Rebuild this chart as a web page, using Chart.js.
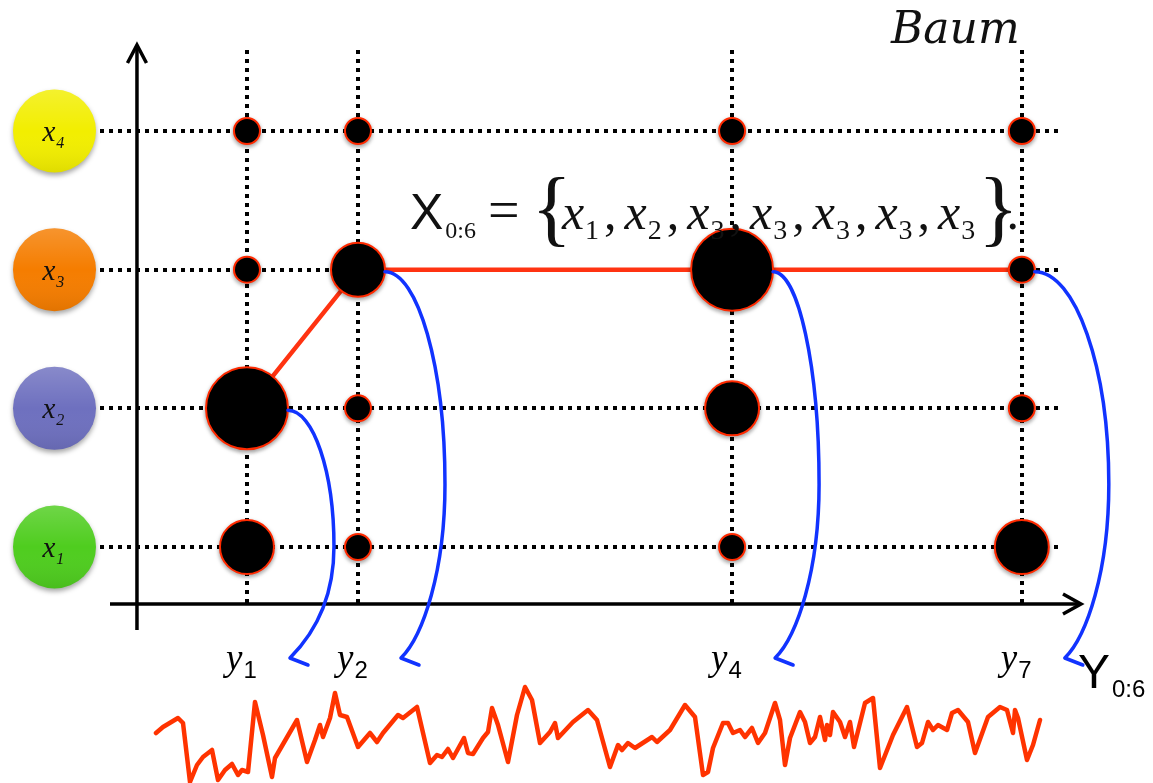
<!DOCTYPE html>
<html><head><meta charset="utf-8">
<script src="https://cdn.jsdelivr.net/npm/chart.js@4"></script>
<style>html,body{margin:0;padding:0;background:#fff;overflow:hidden}#wrap{width:1153px;height:783px;position:relative}canvas{display:block}</style>
</head><body><div id="wrap"><canvas id="c" width="1153" height="783" style="width:1153px;height:783px"></canvas></div>
<script>
// ---------- data ----------
const stateLabels = ['x1', 'x2', 'x3', 'x4'];
const stateValues = [1, 2, 3, 4];
const stateColors = ['#4fcd1f', '#6e70bf', '#f57d00', '#f2ee00'];
const timeLabels = ['1', '2', '4', '7'];          // y_1, y_2, y_4, y_7
const timePositions = [1, 2, 5.37, 7.98];         // positions along the time axis
// bubble weights (1 small, 2 medium, 3 large) per time column
const weightsX1 = [2, 1, 1, 2];
const weightsX2 = [3, 1, 2, 1];
const weightsX3 = [1, 2, 3, 1];
const weightsX4 = [1, 1, 1, 1];
const pathStates = [2, 3, 3, 3];                  // Viterbi path (state index per column)
const equationSequence = ['1', '2', '3', '3', '3', '3', '3'];
// observed signal (bottom red trace)
const noiseTime = [1,8,23,28,35,42,48,57,63,70,77,83,87,93,100,108,117,120,142,152,160,165,168,175,180,185,192,203,215,222,228,243,248,262,275,282,287,293,298,309,313,318,328,333,337,343,353,362,370,377,385,395,400,403,418,433,442,455,463,467,473,480,497,502,515,530,540,548,553,558,568,573,578,585,590,597,603,610,620,625,630,635,645,650,655,660,665,670,672,675,678,685,690,695,699,710,718,725,738,752,762,767,773,778,783,792,797,803,813,820,833,845,852,858,860,863,872,878,885];
const noiseLevel = [50,56,65,60,1,18,26,33,3,13,19,8,13,11,81,48,6,25,63,21,43,58,46,65,90,68,66,36,50,41,50,68,65,76,20,28,26,34,25,45,30,29,45,51,75,58,21,68,96,83,40,51,60,45,61,73,63,16,38,33,40,35,46,41,53,78,66,8,11,35,60,60,50,53,46,55,40,50,80,63,18,45,71,61,40,46,66,43,58,48,71,61,46,61,36,80,85,15,48,76,36,40,61,53,58,53,70,73,61,30,66,76,73,50,73,65,23,38,63];

// ---------- derived datasets ----------
const weightRows = [weightsX1, weightsX2, weightsX3, weightsX4];
const radiusFor = w => 13 + 14 * (w - 1);
const bubbleData = [];
weightRows.forEach((row, si) => row.forEach((w, ti) => bubbleData.push({ x: timePositions[ti], y: stateValues[si], r: radiusFor(w) })));
const pathData = pathStates.map((s, i) => ({ x: timePositions[i], y: s }));
const noiseData = noiseTime.map((t, i) => ({ x: t, y: noiseLevel[i] }));

const SERIF = '"Liberation Serif", "Times New Roman", serif';
const SANS = '"Liberation Sans", Arial, sans-serif';

function drawRich(ctx, x, y, tokens) {
  let cx = x;
  tokens.forEach(tk => {
    cx += tk.dx || 0;
    ctx.font = tk.f;
    ctx.fillText(tk.t, cx, y + (tk.dy || 0));
    cx += ctx.measureText(tk.t).width;
  });
  return cx;
}

const shadowPlugin = {
  id: 'bubbleShadow',
  beforeDatasetDraw(chart, args) {
    if (args.index === 1) {
      const ctx = chart.ctx; ctx.save();
      ctx.shadowColor = 'rgba(0,0,0,0.35)'; ctx.shadowBlur = 4; ctx.shadowOffsetY = 2;
    }
  },
  afterDatasetDraw(chart, args) { if (args.index === 1) chart.ctx.restore(); }
};

const decorPlugin = {
  id: 'decor',
  beforeDatasetsDraw(chart) {
    const ctx = chart.ctx, xs = chart.scales.x, ys = chart.scales.y, ca = chart.chartArea;
    ctx.save();
    ctx.strokeStyle = '#000'; ctx.lineWidth = 3.5; ctx.lineCap = 'butt'; ctx.lineJoin = 'miter';
    // vertical axis with arrow
    const ax = xs.getPixelForValue(0) + 1;
    ctx.beginPath(); ctx.moveTo(ax, ca.bottom + 26); ctx.lineTo(ax, ca.top - 5); ctx.stroke();
    ctx.beginPath(); ctx.moveTo(ax - 9.5, ca.top + 13); ctx.lineTo(ax, ca.top - 5); ctx.lineTo(ax + 9.5, ca.top + 13); ctx.stroke();
    // horizontal axis with arrow
    const ay = ca.bottom;
    ctx.beginPath(); ctx.moveTo(ca.left + 10, ay); ctx.lineTo(ca.right + 21, ay); ctx.stroke();
    ctx.beginPath(); ctx.moveTo(ca.right + 3, ay - 10); ctx.lineTo(ca.right + 21, ay); ctx.lineTo(ca.right + 3, ay + 10); ctx.stroke();
    ctx.restore();
  },
  afterDatasetsDraw(chart) {
    const ctx = chart.ctx, xs = chart.scales.x, ys = chart.scales.y, ca = chart.chartArea;
    ctx.save();
    // blue arrows from path bubbles down to the observations
    ctx.strokeStyle = '#1133ff'; ctx.lineWidth = 3.5; ctx.lineCap = 'round'; ctx.lineJoin = 'round';
    pathStates.forEach((s, i) => {
      const px = xs.getPixelForValue(timePositions[i]);
      const py = ys.getPixelForValue(s);
      const r = radiusFor(weightRows[s - 1][i]);
      const S = { x: px + r, y: py + 2 };
      const T = { x: px + 43, y: ca.bottom + 54 };
      const M = { x: px + 87, y: S.y + 0.55 * (T.y - S.y) };
      ctx.beginPath();
      ctx.moveTo(S.x, S.y);
      ctx.bezierCurveTo(S.x + 0.55 * (M.x - S.x), S.y, M.x, M.y - 0.55 * (M.y - S.y), M.x, M.y);
      ctx.bezierCurveTo(M.x, M.y + 0.5 * (T.y - M.y), T.x + 22, T.y - 22, T.x, T.y);
      ctx.lineTo(T.x + 18, T.y + 7);
      ctx.stroke();
    });
    ctx.fillStyle = '#000'; ctx.textBaseline = 'alphabetic'; ctx.textAlign = 'left';
    // time labels y_t
    timeLabels.forEach((lab, i) => {
      const px = xs.getPixelForValue(timePositions[i]);
      drawRich(ctx, px - 21, ca.bottom + 66, [
        { t: 'y', f: 'italic 37px ' + SERIF },
        { t: lab, f: '24px ' + SANS, dy: 8, dx: 1 }
      ]);
    });
    drawRich(ctx, ca.right + 18, ca.bottom + 84, [
      { t: 'Y', f: '48px ' + SANS },
      { t: '0:6', f: '24px ' + SANS, dy: 9, dx: 2 }
    ]);
    // state circles on the left
    stateValues.forEach((v, i) => {
      const cy = ys.getPixelForValue(v), cx = 54.5, R = 41.5;
      ctx.save();
      ctx.shadowColor = 'rgba(0,0,0,0.35)'; ctx.shadowBlur = 5; ctx.shadowOffsetY = 3;
      ctx.fillStyle = stateColors[i];
      ctx.beginPath(); ctx.arc(cx, cy, R, 0, Math.PI * 2); ctx.fill();
      ctx.restore();
      ctx.save();
      const hl = ctx.createLinearGradient(0, cy - R, 0, cy + R);
      hl.addColorStop(0, 'rgba(255,255,255,0.18)');
      hl.addColorStop(0.5, 'rgba(255,255,255,0.0)');
      hl.addColorStop(1, 'rgba(0,0,0,0.08)');
      ctx.fillStyle = hl;
      ctx.beginPath(); ctx.arc(cx, cy, R, 0, Math.PI * 2); ctx.fill();
      ctx.restore();
      ctx.fillStyle = '#111';
      drawRich(ctx, cx - 12, cy + 10, [
        { t: 'x', f: 'italic 29px ' + SERIF },
        { t: stateLabels[i].slice(1), f: 'italic 16px ' + SERIF, dy: 7, dx: 1 }
      ]);
    });
    // equation
    const eq = [
      { t: 'X', f: '50px ' + SANS },
      { t: '0:6', f: '24px ' + SERIF, dy: 9, dx: 2 },
      { t: '=', f: '56px ' + SERIF, dx: 12 },
      { t: '{', f: '84px ' + SERIF, dy: 7, dx: 12 },
    ];
    equationSequence.forEach((d, i) => {
      eq.push({ t: 'x', f: 'italic 50px ' + SERIF, dx: i === 0 ? -10 : 8 });
      eq.push({ t: d, f: '28px ' + SERIF, dy: 10, dx: 1 });
      if (i < equationSequence.length - 1) eq.push({ t: ',', f: '50px ' + SERIF, dx: 5 });
    });
    eq.push({ t: '}', f: '84px ' + SERIF, dy: 7, dx: 3 });
    eq.push({ t: '.', f: '50px ' + SERIF, dx: -12 });
    drawRich(ctx, 410, 229, eq);
    // title
    ctx.font = 'italic 44px "DejaVu Serif", serif';
    ctx.fillText('Baum', 891, 43);
    ctx.restore();
  }
};

new Chart(document.getElementById('c'), {
  type: 'bubble',
  data: {
    datasets: [
      { type: 'line', data: pathData, borderColor: '#ff3311', borderWidth: 4.5, pointRadius: 0, tension: 0, fill: false, order: 2 },
      { type: 'bubble', data: bubbleData, backgroundColor: '#000', borderColor: '#ff2a00', borderWidth: 2, clip: false, order: 1 },
      { type: 'line', data: noiseData, xAxisID: 'xn', yAxisID: 'yn', borderColor: '#ff3300', borderWidth: 4.5, pointRadius: 0, tension: 0, fill: false, clip: false, borderJoinStyle: 'round', borderCapStyle: 'round', order: 3 }
    ]
  },
  options: {
    responsive: false, animation: false, events: [],
    devicePixelRatio: 1,
    layout: { padding: { left: 100, right: 93, top: 50, bottom: 179 } },
    plugins: { legend: { display: false }, tooltip: { enabled: false } },
    scales: {
      x: {
        type: 'linear', position: 'bottom', min: -0.324, max: 8.324,
        afterBuildTicks: s => { s.ticks = timePositions.map(v => ({ value: v })); },
        afterFit: s => { s.height = 0; },
        ticks: { display: false },
        grid: { color: '#000', lineWidth: 4, drawTicks: false },
        border: { display: false, dash: [4, 5] }
      },
      y: {
        type: 'linear', position: 'left', min: 0.589, max: 4.584,
        afterBuildTicks: s => { s.ticks = stateValues.map(v => ({ value: v })); },
        afterFit: s => { s.width = 0; },
        ticks: { display: false },
        grid: { color: '#000', lineWidth: 4, drawTicks: false },
        border: { display: false, dash: [4, 5] }
      },
      xn: { type: 'linear', axis: 'x', display: false, min: -55, max: 905 },
      yn: { type: 'linear', axis: 'y', display: false, min: 179, max: 733 }
    }
  },
  plugins: [shadowPlugin, decorPlugin]
});
</script>
</body></html>
